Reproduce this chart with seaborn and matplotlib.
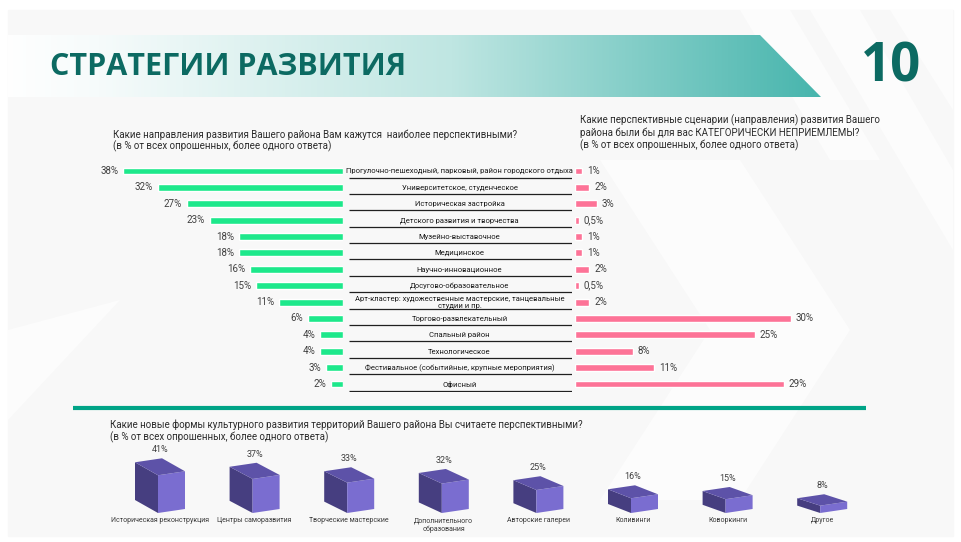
import numpy as np
import pandas as pd
import matplotlib
matplotlib.use('Agg')
import matplotlib.pyplot as plt
from matplotlib.patches import Polygon, Rectangle
from matplotlib.colors import LinearSegmentedColormap
import seaborn as sns

# --- data ---
directions = [
    'Прогулочно-пешеходный, парковый, район городского отдыха',
    'Университетское, студенческое',
    'Историческая застройка',
    'Детского развития и творчества',
    'Музейно-выставочное',
    'Медицинское',
    'Научно-инновационное',
    'Досугово-образовательное',
    'Арт-кластер: художественные мастерские, танцевальные\nстудии и пр.',
    'Торгово-развлекательный',
    'Спальный район',
    'Технологическое',
    'Фестивальное (событийные, крупные мероприятия)',
    'Офисный',
]
perspective_pct = [38, 32, 27, 23, 18, 18, 16, 15, 11, 6, 4, 4, 3, 2]
unacceptable_pct = [1, 2, 3, 0.5, 1, 1, 2, 0.5, 2, 30, 25, 8, 11, 29]

culture_forms = [
    'Историческая реконструкция',
    'Центры саморазвития',
    'Творческие мастерские',
    'Дополнительного\nобразования',
    'Авторские галереи',
    'Коливинги',
    'Коворкинги',
    'Другое',
]
culture_pct = [41, 37, 33, 32, 25, 16, 15, 8]

W, H = 961, 542
GREEN = '#1de88b'
PINK = '#fd7397'
TEAL_DARK = '#0c6a62'
TEXT = '#2b2b2b'

sns.set_theme(style='white')
plt.rcParams['font.family'] = ['Roboto', 'DejaVu Sans']

fig = plt.figure(figsize=(W / 100, H / 100), dpi=100)
fig.patch.set_facecolor('white')


def px_axes(x0, y0, x1, y1, z=1):
    # axes placed by pixel box (top-left origin)
    ax = fig.add_axes([x0 / W, 1 - y1 / H, (x1 - x0) / W, (y1 - y0) / H], zorder=z)
    ax.patch.set_alpha(0)
    return ax


def pct(v):
    return f'{v:g}%'.replace('.', ',')


# background layer in pixel coordinates
bg = px_axes(0, 0, W, H, z=0)
bg.set_xlim(0, W)
bg.set_ylim(H, 0)
bg.axis('off')
bg.add_patch(Rectangle((8, 10), 945, 526, color='#f8f8f8', zorder=0))
# faint chevrons / diagonals of the slide design
for pts in [
    [(740, 10), (790, 10), (880, 160), (830, 160)],
    [(810, 10), (860, 10), (953, 170), (953, 250)],
    [(890, 10), (953, 10), (953, 110)],
    [(600, 160), (740, 160), (850, 330), (740, 500), (600, 500), (710, 330)],
    [(8, 330), (120, 300), (8, 420)],
]:
    bg.add_patch(Polygon(pts, closed=True, color='white', alpha=0.6, zorder=0.5, lw=0))

# title band with gradient
band_cmap = LinearSegmentedColormap.from_list(
    'band', [(0, '#ffffff'), (0.12, '#f6fbfb'), (0.55, '#bfe6e2'), (1, '#47b5ad')])
grad = np.linspace(0, 1, 512).reshape(1, -1)
im = bg.imshow(grad, extent=[0, 821, 97, 35], cmap=band_cmap, aspect='auto', zorder=1)
band = Polygon([(8, 35), (760, 35), (821, 97), (8, 97)], closed=True,
               transform=bg.transData, facecolor='none', edgecolor='none')
bg.add_patch(band)
im.set_clip_path(band)
bg.set_xlim(0, W)
bg.set_ylim(H, 0)

bg.text(50, 67, 'СТРАТЕГИИ РАЗВИТИЯ', fontsize=22, fontweight='bold', color=TEAL_DARK,
        va='center', ha='left', family=['Open Sans', 'DejaVu Sans'], zorder=3)
bg.text(891, 68, '10', fontsize=38, fontweight='bold', color=TEAL_DARK,
        va='center', ha='center', family=['Open Sans', 'DejaVu Sans'], zorder=3)

# question texts
q_kw = dict(fontsize=7, color=TEXT, va='center', ha='left', zorder=3)
bg.text(113, 135, 'Какие направления развития Вашего района Вам кажутся  наиболее перспективными?', **q_kw)
bg.text(113, 146, '(в % от всех опрошенных, более одного ответа)', **q_kw)
bg.text(580, 120, 'Какие перспективные сценарии (направления) развития Вашего', **q_kw)
bg.text(580, 132.5, 'района были бы для вас КАТЕГОРИЧЕСКИ НЕПРИЕМЛЕМЫ?', **q_kw)
bg.text(580, 145, '(в % от всех опрошенных, более одного ответа)', **q_kw)
bg.text(110, 425, 'Какие новые формы культурного развития территорий Вашего района Вы считаете перспективными?', **q_kw)
bg.text(110, 437, '(в % от всех опрошенных, более одного ответа)', **q_kw)

# separator
bg.plot([73, 866], [407.5, 407.5], color='#00a487', lw=3, solid_capstyle='butt', zorder=3)

# --- horizontal bar charts ---
df = pd.DataFrame({'direction': directions, 'good': perspective_pct, 'bad': unacceptable_pct})
row_top, row_bot = 162.8, 392.2

axl = px_axes(100, row_top, 343, row_bot, z=2)
sns.barplot(data=df, x='good', y='direction', orient='h', color=GREEN, saturation=1,
            width=0.42, ax=axl)
axl.set_xlim(42, 0)
axl.set_ylim(13.5, -0.5)
axl.axis('off')
for i, v in enumerate(perspective_pct):
    axl.annotate(pct(v), (v, i), xytext=(-3.5, 0), textcoords='offset points',
                 ha='right', va='center', fontsize=7, color='#404040')

axr = px_axes(575, row_top, 830, row_bot, z=2)
sns.barplot(data=df, x='bad', y='direction', orient='h', color=PINK, saturation=1,
            width=0.42, ax=axr)
axr.set_xlim(0, 255 / 7.2)
axr.set_ylim(13.5, -0.5)
axr.axis('off')
for i, v in enumerate(unacceptable_pct):
    axr.annotate(pct(v), (v, i), xytext=(3.5, 0), textcoords='offset points',
                 ha='left', va='center', fontsize=7, color='#404040')

axm = px_axes(347, row_top, 572, row_bot, z=2)
axm.set_xlim(0, 1)
axm.set_ylim(13.5, -0.5)
axm.axis('off')
for i, name in enumerate(directions):
    axm.text(0.5, i + 0.02, name, ha='center', va='center', fontsize=5.5, color='#1a1a1a',
             linespacing=1.0)
axm.hlines([i + 0.4 for i in range(len(directions))], 0.01, 1.0, color='#202020', lw=0.9)

# --- 3D boxes ---
px_x = 94.6          # pixels per category
px_y = 0.92          # pixels per percent
box_bot, box_top = 513, 440
axb = px_axes(160 - px_x / 2, box_top, 160 + px_x * 7.5, box_bot, z=2)
axb.set_xlim(-0.5, 7.5)
axb.set_ylim(0, (box_bot - box_top) / px_y)
axb.axis('off')

TOP_C, LEFT_C, RIGHT_C = '#5d52a8', '#463e80', '#7a6dd0'
for i, (name, v) in enumerate(zip(culture_forms, culture_pct)):
    fx = i - 2 / px_x                       # front vertical edge
    l_dx, l_dy = -23 / px_x, (13 - 0.8 * i) / px_y
    r_dx, r_dy = 27 / px_x, 4 / px_y
    front_b, front_t = (fx, 0), (fx, v)
    lb, lt = (fx + l_dx, l_dy), (fx + l_dx, v + l_dy)
    rb, rt = (fx + r_dx, r_dy), (fx + r_dx, v + r_dy)
    back_t = (fx + l_dx + r_dx, v + l_dy + r_dy)
    axb.fill(*zip(lb, front_b, front_t, lt), color=LEFT_C, lw=0, zorder=2)
    axb.fill(*zip(front_b, rb, rt, front_t), color=RIGHT_C, lw=0, zorder=2)
    axb.fill(*zip(front_t, rt, back_t, lt), color=TOP_C, lw=0, zorder=2)
    axb.annotate(pct(v), (fx + 0.02, v + l_dy + r_dy), xytext=(0, 3), textcoords='offset points',
                 ha='center', va='bottom', fontsize=6.5, color='#404040')
    axb.annotate(name, (i, 0), xytext=(0, -3), textcoords='offset points', ha='center',
                 va='top', fontsize=5.0, color='#3a3a3a', linespacing=1.3,
                 annotation_clip=False, zorder=3)

fig.savefig('out.png', dpi=100, facecolor=fig.get_facecolor())
